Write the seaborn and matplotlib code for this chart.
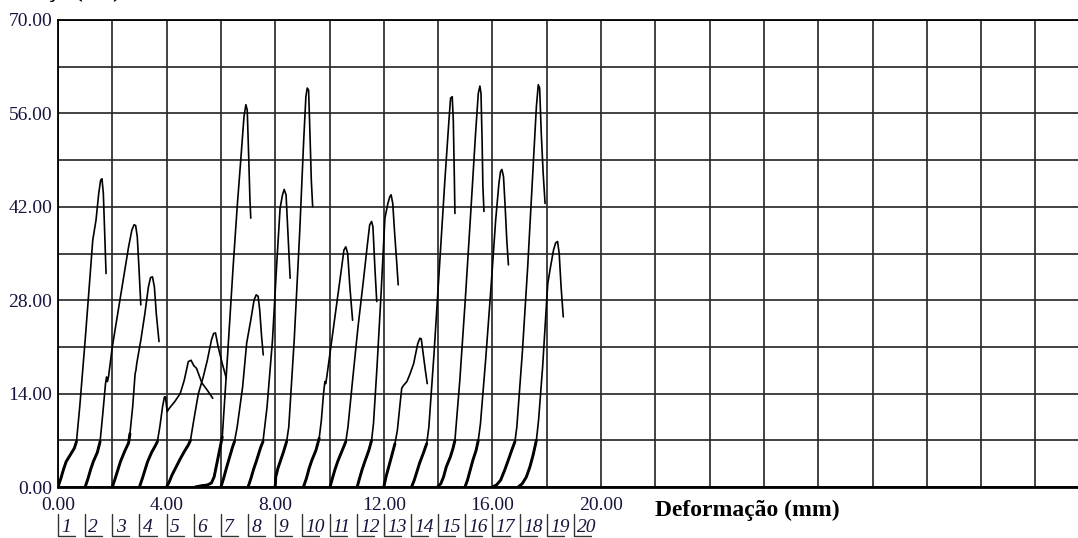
import numpy as np
import pandas as pd
import matplotlib
matplotlib.use("Agg")
import matplotlib.pyplot as plt
import matplotlib.transforms as mtransforms
import seaborn as sns

# Force (kN) vs. deformation (mm) for each specimen, curves offset by 1 mm
cp01_x = [0.0, 0.1, 0.2, 0.3, 0.45, 0.6, 0.68, 0.8, 1.0, 1.15, 1.28, 1.4, 1.5, 1.57, 1.62, 1.67, 1.72, 1.77]
cp01_y = [0, 1.2, 2.6, 3.8, 4.8, 5.8, 6.8, 12, 22, 30, 37, 40, 44, 46, 46.2, 44, 38, 32]
cp02_x = [1.0, 1.1, 1.2, 1.3, 1.45, 1.55, 1.65, 1.75, 1.79, 1.82, 1.86, 2.0, 2.2, 2.4, 2.6, 2.72, 2.8, 2.86, 2.92, 2.98, 3.05]
cp02_y = [0, 1.2, 2.6, 3.8, 5.2, 6.8, 11, 15.5, 16.5, 15.8, 16.5, 21, 26, 31, 36, 38.5, 39.3, 39.2, 37.5, 33, 27.3]
cp03_x = [2.0, 2.1, 2.2, 2.3, 2.45, 2.6, 2.65, 2.75, 2.84, 2.87, 2.9, 3.05, 3.2, 3.33, 3.41, 3.48, 3.55, 3.62, 3.72]
cp03_y = [0, 1.2, 2.5, 3.8, 5.3, 6.6, 8, 12, 17, 17.5, 18.5, 22, 26, 30, 31.4, 31.5, 30, 26, 21.8]
cp04_x = [3.0, 3.1, 3.2, 3.3, 3.45, 3.6, 3.66, 3.75, 3.85, 3.92, 3.96, 4.02, 4.1, 4.3, 4.5, 4.65, 4.8, 4.9, 5.0, 5.1, 5.3, 5.5, 5.7]
cp04_y = [0, 1.2, 2.5, 3.8, 5.2, 6.3, 6.8, 9, 12, 13.5, 13.5, 11.3, 11.8, 12.8, 14, 16, 18.8, 19, 18.2, 17.8, 15.6, 14.5, 13.3]
cp05_x = [4.0, 4.1, 4.2, 4.35, 4.5, 4.65, 4.8, 4.88, 5.0, 5.17, 5.35, 5.5, 5.65, 5.73, 5.8, 5.9, 6.05, 6.2]
cp05_y = [0, 0.8, 1.8, 3.0, 4.2, 5.3, 6.3, 7.0, 10, 14, 16.5, 19, 22, 23, 23.1, 21, 18.5, 16.3]
cp06_x = [5.05, 5.3, 5.5, 5.65, 5.75, 5.85, 5.95, 6.05, 6.25, 6.45, 6.6, 6.75, 6.85, 6.92, 6.97, 7.02, 7.07, 7.1]
cp06_y = [0, 0.2, 0.3, 0.6, 1.5, 3.5, 5.5, 7.5, 20, 33, 42, 50, 55.5, 57.3, 56.5, 50, 43, 40.3]
cp07_x = [6.0, 6.1, 6.2, 6.3, 6.43, 6.5, 6.6, 6.8, 6.95, 7.1, 7.22, 7.3, 7.37, 7.43, 7.5, 7.56]
cp07_y = [0, 1.3, 2.8, 4.2, 6.0, 6.8, 9, 15, 21.6, 25, 28, 28.8, 28.6, 26.5, 22.5, 19.8]
cp08_x = [7.0, 7.1, 7.2, 7.3, 7.47, 7.55, 7.7, 7.9, 8.05, 8.18, 8.27, 8.33, 8.4, 8.47, 8.55]
cp08_y = [0, 1.2, 2.6, 3.8, 6.0, 6.8, 12, 22, 33, 41.8, 43.8, 44.6, 43.8, 38, 31.3]
cp09_x = [8.0, 8.02, 8.1, 8.2, 8.3, 8.42, 8.5, 8.7, 8.9, 9.05, 9.13, 9.18, 9.23, 9.28, 9.33, 9.38]
cp09_y = [0, 1.5, 2.8, 4.0, 5.2, 6.8, 9, 22, 38, 52, 58.5, 59.8, 59.5, 53, 46, 42]
cp10_x = [9.04, 9.15, 9.25, 9.35, 9.5, 9.62, 9.7, 9.78, 9.83, 9.86, 9.9, 10.05, 10.25, 10.45, 10.53, 10.6, 10.67, 10.75, 10.85]
cp10_y = [0, 1.3, 2.8, 4.0, 5.5, 7.3, 10, 14, 15.8, 15.5, 16.5, 21, 27, 33, 35.5, 36, 35, 30, 25]
cp11_x = [10.02, 10.1, 10.2, 10.3, 10.45, 10.6, 10.68, 10.85, 11.05, 11.25, 11.4, 11.48, 11.55, 11.6, 11.67, 11.74]
cp11_y = [0, 1.2, 2.6, 3.8, 5.3, 6.8, 9, 16, 24, 31, 36.5, 39.3, 39.8, 39, 33, 27.8]
cp12_x = [11.02, 11.1, 11.2, 11.3, 11.45, 11.55, 11.62, 11.75, 11.9, 12.04, 12.15, 12.22, 12.27, 12.33, 12.4, 12.47, 12.53]
cp12_y = [0, 1.2, 2.6, 3.8, 5.5, 7.0, 9.5, 18, 29, 40.3, 42.5, 43.5, 43.8, 42.5, 38, 34, 30.3]
cp13_x = [12.0, 12.08, 12.18, 12.28, 12.41, 12.5, 12.6, 12.66, 12.72, 12.85, 12.97, 13.1, 13.25, 13.33, 13.38, 13.45, 13.53, 13.6]
cp13_y = [0, 1.5, 3, 4.5, 6.5, 8.5, 12.5, 14.8, 15.2, 15.8, 17, 18.5, 21.5, 22.3, 22.2, 20, 17.5, 15.5]
cp14_x = [13.02, 13.12, 13.22, 13.32, 13.45, 13.58, 13.66, 13.85, 14.05, 14.25, 14.4, 14.46, 14.52, 14.56, 14.6, 14.62]
cp14_y = [0, 1.0, 2.3, 3.6, 5.0, 6.5, 9, 20, 33, 46, 55, 58.3, 58.5, 55, 46, 41]
cp15_x = [13.98, 14.1, 14.2, 14.3, 14.45, 14.55, 14.62, 14.8, 15.0, 15.2, 15.38, 15.48, 15.54, 15.58, 15.62, 15.65, 15.69]
cp15_y = [0, 0.5, 1.5, 3, 4.5, 5.8, 7.0, 16, 28, 41, 53, 59, 60.1, 59, 52, 45, 41.3]
cp16_x = [14.99, 15.08, 15.18, 15.28, 15.4, 15.48, 15.56, 15.75, 15.95, 16.12, 16.24, 16.3, 16.35, 16.41, 16.47, 16.53, 16.59]
cp16_y = [0, 1.0, 2.5, 4.0, 5.5, 7.0, 9.5, 19, 30, 40, 45.5, 47.3, 47.6, 46.5, 42, 37, 33.3]
cp17_x = [16.0, 16.15, 16.3, 16.45, 16.6, 16.72, 16.83, 16.9, 17.1, 17.3, 17.5, 17.62, 17.69, 17.74, 17.8, 17.87, 17.94]
cp17_y = [0, 0.3, 1, 2.5, 4.2, 5.6, 6.8, 9, 20, 33, 48, 57, 60.3, 59.8, 53, 47, 42.5]
cp18_x = [16.95, 17.1, 17.25, 17.38, 17.5, 17.62, 17.7, 17.85, 18.0, 18.04, 18.12, 18.25, 18.33, 18.4, 18.46, 18.53, 18.61]
cp18_y = [0, 0.5, 1.5, 3, 4.8, 7, 10, 18, 28, 30.5, 32.5, 35.5, 36.6, 36.8, 35, 30, 25.5]

curves_x = [cp01_x, cp02_x, cp03_x, cp04_x, cp05_x, cp06_x, cp07_x, cp08_x, cp09_x,
            cp10_x, cp11_x, cp12_x, cp13_x, cp14_x, cp15_x, cp16_x, cp17_x, cp18_x]
curves_y = [cp01_y, cp02_y, cp03_y, cp04_y, cp05_y, cp06_y, cp07_y, cp08_y, cp09_y,
            cp10_y, cp11_y, cp12_y, cp13_y, cp14_y, cp15_y, cp16_y, cp17_y, cp18_y]

specimen_labels = [str(i) for i in range(1, 21)]
x_grid = list(range(0, 38, 2))
x_tick_labels = ["0.00", "", "4.00", "", "8.00", "", "12.00", "", "16.00", "", "20.00",
                 "", "", "", "", "", "", "", ""]
y_grid = [0, 7, 14, 21, 28, 35, 42, 49, 56, 63, 70]
y_tick_labels = ["0.00", "", "14.00", "", "28.00", "", "42.00", "", "56.00", "", "70.00"]

rows = []
for k, (xs, ys) in enumerate(zip(curves_x, curves_y)):
    for i, (xv, yv) in enumerate(zip(xs, ys)):
        rows.append({"cp": k + 1, "ordem": i, "def": xv, "forca": yv})
df = pd.DataFrame(rows)

sns.set_style("white")
plt.rcParams["font.family"] = ["Liberation Serif", "DejaVu Serif"]

W, H = 1078, 538
fig = plt.figure(figsize=(W / 100, H / 100), dpi=100)
x_max = 38.0
px_per_mm = 27.15
ax = fig.add_axes([58 / W, 1 - 487 / H, x_max * px_per_mm / W, 467 / H])

sns.lineplot(data=df, x="def", y="forca", units="cp", estimator=None, sort=False,
             color="black", lw=1.2, ax=ax, zorder=3)
# heavier trace in the low-force seating region
sns.lineplot(data=df[df["forca"] <= 8], x="def", y="forca", units="cp", estimator=None,
             sort=False, color="black", lw=2.1, ax=ax, zorder=3)

ax.set_xlim(0, x_max)
ax.set_ylim(0, 70)
ax.set_xticks(x_grid)
ax.set_xticklabels(x_tick_labels)
ax.set_yticks(y_grid)
ax.set_yticklabels(y_tick_labels)
ax.tick_params(axis="both", length=0, labelsize=14, labelcolor="#14143c")
ax.tick_params(axis="x", pad=7)
ax.tick_params(axis="y", pad=4)
ax.grid(True, color="#2b2b2b", lw=1.25)
ax.set_axisbelow(True)
ax.set_xlabel("")
ax.set_ylabel("")
for side in ["top", "left", "right"]:
    ax.spines[side].set_color("black")
    ax.spines[side].set_linewidth(1.3)
ax.spines["bottom"].set_color("black")
ax.spines["bottom"].set_linewidth(2.0)

fig.text(655 / W, 1 - 516 / H, "Deformação (mm)", fontsize=17, fontweight="bold",
         color="black", ha="left", va="baseline")
# axis title sits above the page edge; only its descenders reach into view
fig.text(10 / W, 1 + 3 / H, "Força (kN)", fontsize=17, fontweight="bold",
         color="black", ha="left", va="baseline")

# specimen index markers under the axis
trans = mtransforms.blended_transform_factory(ax.transData, fig.transFigure)
for i, lab in enumerate(specimen_labels):
    x0 = float(i)
    ax.plot([x0, x0, x0 + 0.63], [1 - 514 / H, 1 - 536 / H, 1 - 536 / H],
            color="#333333", lw=1.0, transform=trans, clip_on=False)
    ax.text(x0 + 0.12, 1 - 532 / H, lab, fontsize=14, style="italic",
            color="#14143c", transform=trans, ha="left", va="baseline")

fig.savefig("out.png", dpi=100)
